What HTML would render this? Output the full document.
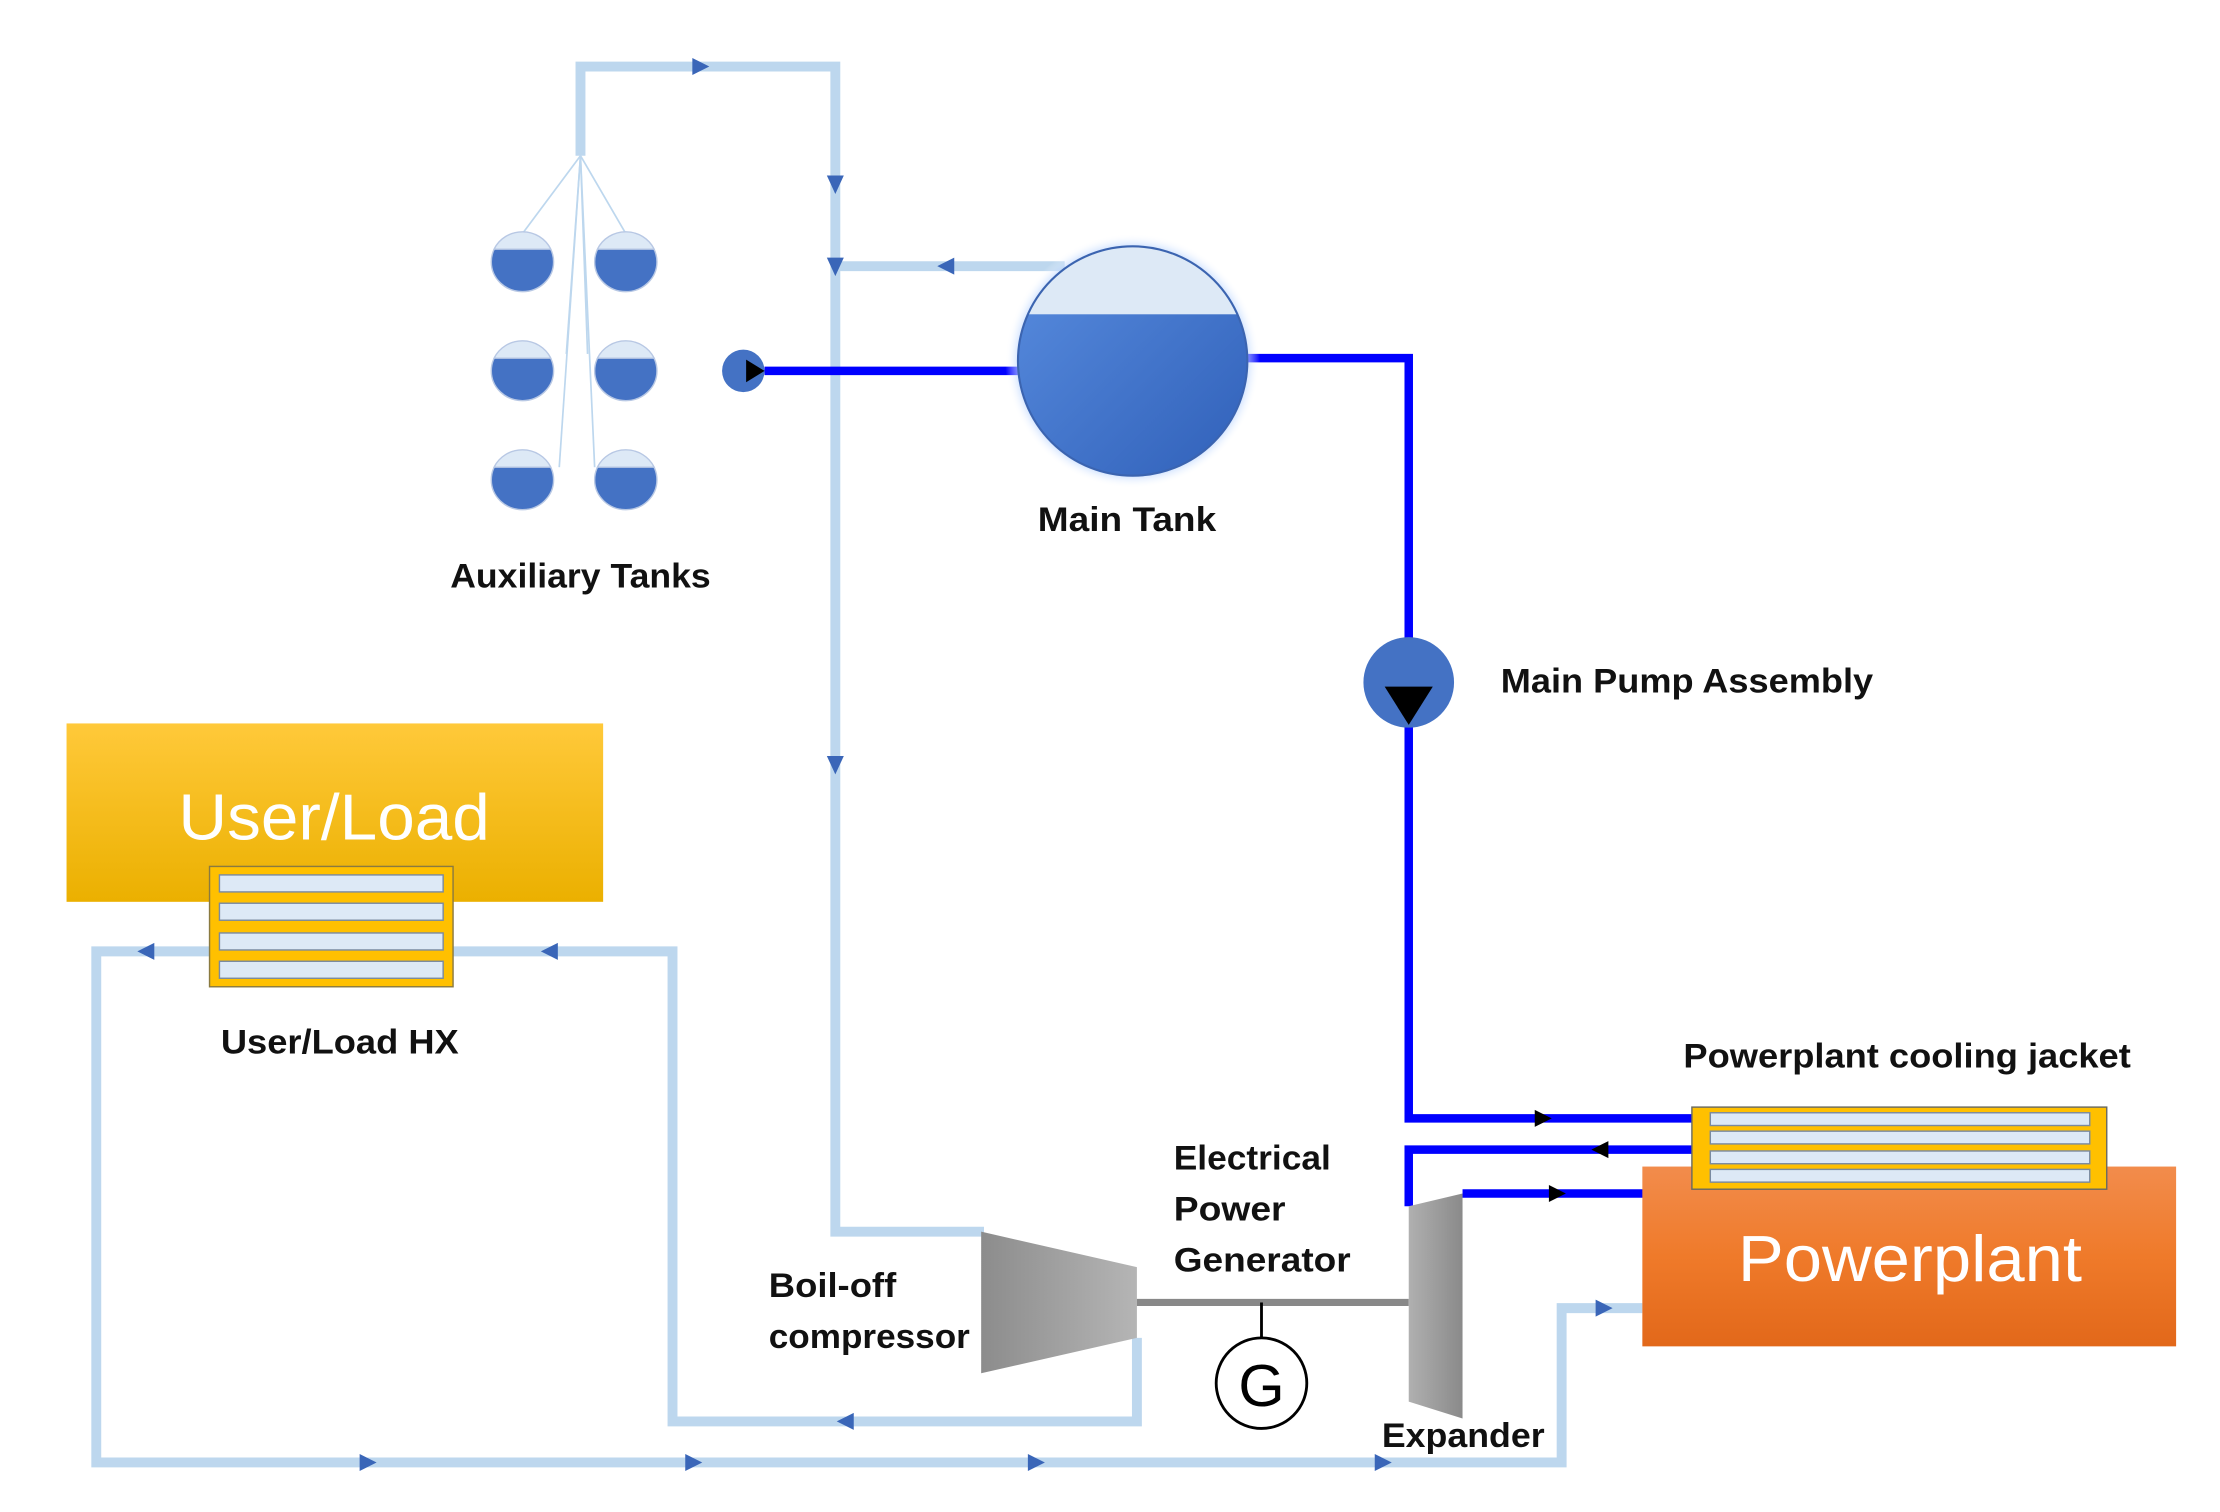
<!DOCTYPE html>
<html><head><meta charset="utf-8"><style>html,body{margin:0;padding:0;background:#fff}svg{display:block}</style></head>
<body>
<svg width="2220" height="1512" viewBox="0 0 1568 1068" preserveAspectRatio="none" xmlns="http://www.w3.org/2000/svg" font-family="'Liberation Sans', sans-serif">
<defs>
<linearGradient id="yl" x1="0" y1="0" x2="0" y2="1"><stop offset="0" stop-color="#ffc93a"/><stop offset="1" stop-color="#ebb000"/></linearGradient>
<linearGradient id="or" x1="0" y1="0" x2="0" y2="1"><stop offset="0" stop-color="#f28c4c"/><stop offset="0.5" stop-color="#ef7a2a"/><stop offset="1" stop-color="#e2681a"/></linearGradient>
<linearGradient id="gr" x1="0" y1="0" x2="1" y2="0"><stop offset="0" stop-color="#8c8c8c"/><stop offset="1" stop-color="#b5b5b5"/></linearGradient>
<linearGradient id="gr2" x1="0" y1="0" x2="1" y2="0"><stop offset="0" stop-color="#b0b0b0"/><stop offset="1" stop-color="#8a8a8a"/></linearGradient>
<radialGradient id="glow"><stop offset="0.85" stop-color="#9dc3ff"/><stop offset="1" stop-color="#ffffff" stop-opacity="0"/></radialGradient>
<linearGradient id="tk" x1="0" y1="0" x2="1" y2="1"><stop offset="0" stop-color="#5a8ee0"/><stop offset="1" stop-color="#2f5fb8"/></linearGradient>
<clipPath id="mt"><circle cx="800" cy="255" r="81"/></clipPath>
</defs>
<g fill="none" stroke="#bdd7ee" stroke-width="7" stroke-linejoin="miter">
<polyline points="410,110 410,47 590,47 590,870 695,870"/>
<polyline points="590,188 752,188"/>
<polyline points="148,672 68,672 68,1033 1103,1033 1103,924 1160,924"/>
<polyline points="320,672 475,672 475,1004 803,1004 803,945"/>
</g>
<g stroke="#bdd7ee" stroke-width="1.2" fill="none">
<line x1="410" y1="110" x2="369" y2="165"/><line x1="410" y1="110" x2="442" y2="165"/>
<line x1="410" y1="110" x2="395" y2="330"/><line x1="410" y1="110" x2="420" y2="330"/>
<line x1="410" y1="110" x2="400" y2="250"/><line x1="410" y1="110" x2="415" y2="250"/>
</g>
<g fill="#3a66b8">
<polygon points="489,41 501,47 489,53"/>
<polygon points="584,124 596,124 590,137"/>
<polygon points="584,182 596,182 590,195"/>
<polygon points="674,182 674,194 662,188"/>
<polygon points="584,534 596,534 590,547"/>
<polygon points="109,666 109,678 97,672"/>
<polygon points="394,666 394,678 382,672"/>
<polygon points="603,998 603,1010 591,1004"/>
<polygon points="254,1027 266,1033 254,1039"/>
<polygon points="484,1027 496,1033 484,1039"/>
<polygon points="726,1027 738,1033 726,1039"/>
<polygon points="971,1027 983,1033 971,1039"/>
<polygon points="1127,918 1139,924 1127,930"/>
</g>
<g fill="none" stroke="#0000ff" stroke-width="6">
<polyline points="540,262 720,262"/>
<polyline points="880,253 995,253 995,790 1197,790"/>
<polyline points="1197,812 995,812 995,852"/>
<polyline points="1033,843 1162,843"/>
</g>
<g fill="#000">
<polygon points="1084,784 1096,790 1084,796"/>
<polygon points="1136,806 1136,818 1124,812"/>
<polygon points="1094,837 1106,843 1094,849"/>
</g>
<!-- aux tanks -->
<g stroke="#b8c8e4" stroke-width="1">
<g><ellipse cx="369" cy="185" rx="22" ry="21" fill="#4472c4"/><path d="M349,176 A22,21 0 0 1 389,176 Z" fill="#dde9f6"/></g>
<g><ellipse cx="442" cy="185" rx="22" ry="21" fill="#4472c4"/><path d="M422,176 A22,21 0 0 1 462,176 Z" fill="#dde9f6"/></g>
<g><ellipse cx="369" cy="262" rx="22" ry="21" fill="#4472c4"/><path d="M349,253 A22,21 0 0 1 389,253 Z" fill="#dde9f6"/></g>
<g><ellipse cx="442" cy="262" rx="22" ry="21" fill="#4472c4"/><path d="M422,253 A22,21 0 0 1 462,253 Z" fill="#dde9f6"/></g>
<g><ellipse cx="369" cy="339" rx="22" ry="21" fill="#4472c4"/><path d="M349,330 A22,21 0 0 1 389,330 Z" fill="#dde9f6"/></g>
<g><ellipse cx="442" cy="339" rx="22" ry="21" fill="#4472c4"/><path d="M422,330 A22,21 0 0 1 462,330 Z" fill="#dde9f6"/></g>
</g>
<circle cx="525" cy="262" r="15" fill="#4472c4"/>
<polygon points="527,254 540,262 527,270" fill="#000"/>
<!-- main tank -->
<circle cx="800" cy="255" r="90" fill="url(#glow)"/>
<g clip-path="url(#mt)"><rect x="715" y="170" width="170" height="170" fill="url(#tk)"/><rect x="715" y="170" width="170" height="52" fill="#dde9f6"/></g>
<circle cx="800" cy="255" r="81" fill="none" stroke="#3b64b0" stroke-width="1.5"/>
<!-- pump -->
<circle cx="995" cy="482" r="32" fill="#4472c4"/>
<polygon points="978,485 1012,485 995,512" fill="#000"/>
<!-- user/load -->
<rect x="47" y="511" width="379" height="126" fill="url(#yl)"/>
<text x="236" y="593" fill="#fff" font-size="46" text-anchor="middle" textLength="220" lengthAdjust="spacingAndGlyphs">User/Load</text>
<rect x="148" y="612" width="172" height="85" fill="#ffc000" stroke="#8a7a40" stroke-width="1"/>
<g fill="#dde9f6" stroke="#7a8aa0" stroke-width="1">
<rect x="155" y="618" width="158" height="12"/><rect x="155" y="638" width="158" height="12"/><rect x="155" y="659" width="158" height="12"/><rect x="155" y="679" width="158" height="12"/>
</g>
<!-- powerplant -->
<rect x="1160" y="824" width="377" height="127" fill="url(#or)"/>
<text x="1349" y="905" fill="#fff" font-size="46" text-anchor="middle" textLength="243" lengthAdjust="spacingAndGlyphs">Powerplant</text>
<rect x="1195" y="782" width="293" height="58" fill="#ffc000" stroke="#6a6a60" stroke-width="1"/>
<g fill="#dde9f6" stroke="#7a8aa0" stroke-width="1">
<rect x="1208" y="786" width="268" height="9"/><rect x="1208" y="799" width="268" height="9"/><rect x="1208" y="813" width="268" height="9"/><rect x="1208" y="826" width="268" height="9"/>
</g>
<!-- compressor, shaft, G, expander -->
<polygon points="693,870 803,895 803,945 693,970" fill="url(#gr)"/>
<line x1="803" y1="920" x2="995" y2="920" stroke="#888" stroke-width="5"/>
<line x1="891" y1="920" x2="891" y2="946" stroke="#000" stroke-width="2"/>
<circle cx="891" cy="977" r="32" fill="#fff" stroke="#000" stroke-width="2"/>
<text x="891" y="993" font-size="42" text-anchor="middle" fill="#000">G</text>
<polygon points="995,852 1033,843 1033,1002 995,990" fill="url(#gr2)"/>
<!-- labels -->
<g font-weight="bold" font-size="24" fill="#111" lengthAdjust="spacingAndGlyphs">
<text x="733" y="375" textLength="126" lengthAdjust="spacingAndGlyphs">Main Tank</text>
<text x="318" y="415" textLength="184" lengthAdjust="spacingAndGlyphs">Auxiliary Tanks</text>
<text x="1060" y="489" textLength="263" lengthAdjust="spacingAndGlyphs">Main Pump Assembly</text>
<text x="156" y="744" textLength="168" lengthAdjust="spacingAndGlyphs">User/Load HX</text>
<text x="1189" y="754" textLength="316" lengthAdjust="spacingAndGlyphs">Powerplant cooling jacket</text>
<text x="829" y="826" textLength="111" lengthAdjust="spacingAndGlyphs">Electrical</text>
<text x="829" y="862" textLength="79" lengthAdjust="spacingAndGlyphs">Power</text>
<text x="829" y="898" textLength="125" lengthAdjust="spacingAndGlyphs">Generator</text>
<text x="543" y="916" textLength="90" lengthAdjust="spacingAndGlyphs">Boil-off</text>
<text x="543" y="952" textLength="142" lengthAdjust="spacingAndGlyphs">compressor</text>
<text x="976" y="1022" textLength="115" lengthAdjust="spacingAndGlyphs">Expander</text>
</g>
</svg>
</body></html>
